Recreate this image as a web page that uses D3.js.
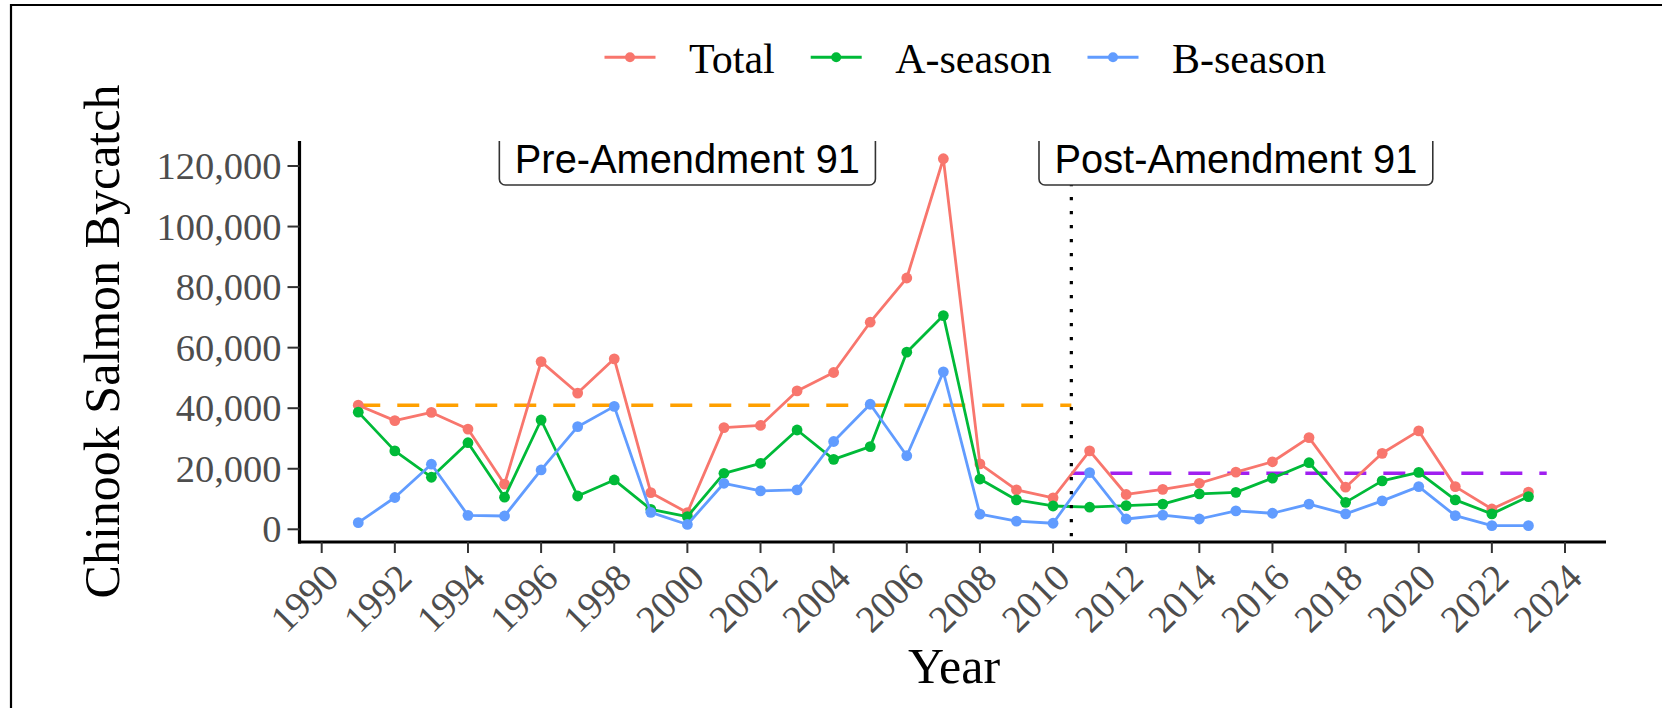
<!DOCTYPE html>
<html>
<head>
<meta charset="utf-8">
<script src="https://cdn.jsdelivr.net/npm/d3@7"></script>
<style>
  html, body { margin: 0; padding: 0; background: #fff; }
  svg { display: block; }
</style>
</head>
<body>
<svg id="chart" width="1662" height="708"></svg>
<script>
// ---- data ----
const years = [1991,1992,1993,1994,1995,1996,1997,1998,1999,2000,2001,2002,2003,2004,2005,2006,2007,2008,2009,2010,2011,2012,2013,2014,2015,2016,2017,2018,2019,2020,2021,2022,2023];
const totalValues = [41000,35900,38600,33100,14900,55400,45000,56300,12100,5500,33600,34300,45700,51800,68400,83000,122400,21600,13000,10400,25900,11500,13200,15200,18900,22300,30300,13900,25100,32500,14100,6700,12300];
const aSeasonValues = [38700,25900,17200,28600,10600,36100,11000,16300,6600,4200,18500,21800,32800,23100,27300,58500,70600,16600,9700,7700,7300,7800,8300,11700,12200,16900,22000,8900,16000,18800,9700,5100,10800];
const bSeasonValues = [2200,10500,21500,4600,4400,19600,33900,40600,5600,1600,15200,12700,13000,29000,41300,24300,52000,5000,2700,2000,18700,3400,4700,3400,6100,5300,8300,5100,9400,14100,4500,1200,1200];
const seriesNames = ["Total","A-season","B-season"];
const yTicks = [0,20000,40000,60000,80000,100000,120000];
const xTicks = [1990,1992,1994,1996,1998,2000,2002,2004,2006,2008,2010,2012,2014,2016,2018,2020,2022,2024];
const preMean = 41000, postMean = 18500;
const preSpan = [1991, 2010.5], postSpan = [2010.5, 2023.5];
const amendmentYear = 2010.5;
const periodLabels = ["Pre-Amendment 91","Post-Amendment 91"];
const periodLabelX = [2000, 2015];

// ---- layout ----
const colors = ["#F8766D","#00BA38","#619CFF"];
const panel = {left: 299.5, right: 1606, top: 141, bottom: 542};
const svg = d3.select("#chart");

const x = d3.scaleLinear().domain([1990, 2024]).range([321.7, 1565]);
const y = d3.scaleLinear().domain([0, 120000]).range([529.3, 166]);

const serif = "'Liberation Serif','Times New Roman',serif";
const sans = "'Liberation Sans',Arial,sans-serif";

// outer border
svg.append("path").attr("d", "M11,708 L11,5 L1662,5")
  .attr("fill","none").attr("stroke","#000").attr("stroke-width",2.2);

// clip for panel
svg.append("defs").append("clipPath").attr("id","panelClip")
  .append("rect").attr("x",panel.left).attr("y",panel.top)
  .attr("width",panel.right-panel.left).attr("height",panel.bottom-panel.top);

const g = svg.append("g").attr("clip-path","url(#panelClip)");

// mean lines
g.append("line").attr("x1",x(preSpan[0])).attr("x2",x(preSpan[1]))
  .attr("y1",y(preMean)).attr("y2",y(preMean))
  .attr("stroke","#FFA000").attr("stroke-width",3.5).attr("stroke-dasharray","22,17");
g.append("line").attr("x1",x(postSpan[0])).attr("x2",x(postSpan[1]))
  .attr("y1",y(postMean)).attr("y2",y(postMean))
  .attr("stroke","#A020F0").attr("stroke-width",3.5).attr("stroke-dasharray","22,17");

// series
const series = [totalValues, aSeasonValues, bSeasonValues];
const line = d3.line().x((d,i)=>x(years[i])).y(d=>y(d));
series.forEach((vals, k) => {
  g.append("path").datum(vals).attr("d", line)
    .attr("fill","none").attr("stroke",colors[k]).attr("stroke-width",2.8)
    .attr("stroke-linejoin","round");
  g.selectAll(null).data(vals).enter().append("circle")
    .attr("cx",(d,i)=>x(years[i])).attr("cy",d=>y(d)).attr("r",5.4)
    .attr("fill",colors[k]);
});

// vertical dotted line
g.append("line").attr("x1",x(amendmentYear)).attr("x2",x(amendmentYear))
  .attr("y1",panel.top).attr("y2",panel.bottom)
  .attr("stroke","#000").attr("stroke-width",3.2).attr("stroke-dasharray","3.2,10.8");

// period labels
periodLabels.forEach((t, i) => {
  const lg = g.append("g");
  const cx = x(periodLabelX[i]);
  const txt = lg.append("text").attr("x", cx).attr("y", 173.3)
    .attr("text-anchor","middle").attr("font-family",sans).attr("font-size",39.8)
    .attr("fill","#000").text(t);
  const w = txt.node().getComputedTextLength();
  lg.insert("rect","text").attr("x", cx - w/2 - 15.5).attr("y", 125)
    .attr("width", w + 31).attr("height", 60).attr("rx",6).attr("ry",6)
    .attr("fill","#fff").attr("stroke","#333").attr("stroke-width",1.6);
});

// axes
const yAxis = svg.append("g");
yAxis.append("line").attr("x1",panel.left).attr("x2",panel.left)
  .attr("y1",panel.top).attr("y2",panel.bottom+1.5)
  .attr("stroke","#000").attr("stroke-width",3.2);
yTicks.forEach(v => {
  yAxis.append("line").attr("x1",panel.left-12).attr("x2",panel.left)
    .attr("y1",y(v)).attr("y2",y(v)).attr("stroke","#333").attr("stroke-width",2);
  yAxis.append("text").attr("x",panel.left-18).attr("y",y(v)).attr("dy","0.34em")
    .attr("text-anchor","end").attr("font-family",serif).attr("font-size",38.5)
    .attr("fill","#4D4D4D").text(d3.format(",")(v));
});

const xAxis = svg.append("g");
xAxis.append("line").attr("x1",panel.left-1.5).attr("x2",panel.right)
  .attr("y1",panel.bottom).attr("y2",panel.bottom)
  .attr("stroke","#000").attr("stroke-width",3.2);
xTicks.forEach(v => {
  xAxis.append("line").attr("x1",x(v)).attr("x2",x(v))
    .attr("y1",panel.bottom).attr("y2",panel.bottom+11)
    .attr("stroke","#333").attr("stroke-width",2);
  xAxis.append("text").attr("transform",`translate(${x(v)},${561}) rotate(-45)`)
    .attr("dy","0.7em").attr("text-anchor","end")
    .attr("font-family",serif).attr("font-size",38.5).attr("fill","#4D4D4D")
    .text(v);
});

// axis titles
svg.append("text").attr("x",954).attr("y",683).attr("text-anchor","middle")
  .attr("font-family",serif).attr("font-size",50).attr("fill","#000").text("Year");
svg.append("text").attr("transform",`translate(119,${(panel.top+panel.bottom)/2}) rotate(-90)`)
  .attr("text-anchor","middle").attr("font-family",serif).attr("font-size",50)
  .attr("fill","#000").text("Chinook Salmon Bycatch");

// legend
const legend = svg.append("g");
let lx = 604.5;
const ly = 57.3;
seriesNames.forEach((name, k) => {
  legend.append("line").attr("x1",lx).attr("x2",lx+51).attr("y1",ly).attr("y2",ly)
    .attr("stroke",colors[k]).attr("stroke-width",3);
  legend.append("circle").attr("cx",lx+25.5).attr("cy",ly).attr("r",5).attr("fill",colors[k]);
  const t = legend.append("text").attr("x",lx+84.5).attr("y",72.7)
    .attr("font-family",serif).attr("font-size",42).attr("fill","#000").text(name);
  lx = lx + 84.5 + t.node().getComputedTextLength() + 36;
});
</script>
</body>
</html>
